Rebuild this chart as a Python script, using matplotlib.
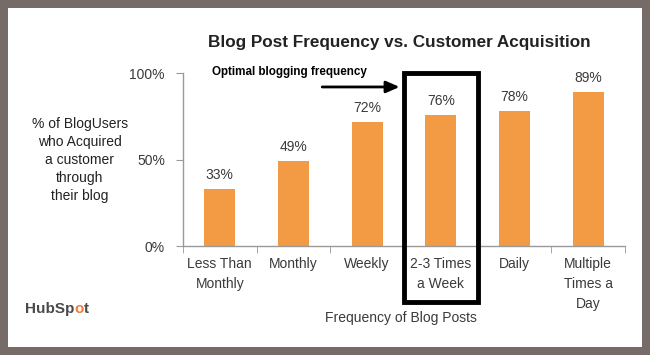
import matplotlib.pyplot as plt
from matplotlib.patches import Rectangle
import numpy as np

plt.rcParams['font.family'] = ['Liberation Sans', 'DejaVu Sans']

# data
categories = ['Less Than\nMonthly', 'Monthly', 'Weekly', '2-3 Times\na Week', 'Daily', 'Multiple\nTimes a\nDay']
values = [33, 49, 72, 76, 78, 89]
yticks = [0, 50, 100]
ytick_labels = ['0%', '50%', '100%']
highlight = 3

bar_color = '#F39A45'
text_color = '#3a3a3a'

fig = plt.figure(figsize=(6.5, 3.55), dpi=100, facecolor='#766b66')
# white card inside the frame
fig.patches.append(Rectangle((0.012, 0.022), 0.976, 0.956, transform=fig.transFigure,
                             facecolor='white', edgecolor='none', zorder=-1))

ax = fig.add_axes([0.2815, 0.307, 0.68, 0.487])
ax.set_zorder(2)
ax.set_facecolor('none')
x = np.arange(len(categories))
ax.bar(x, values, width=0.42, color=bar_color, zorder=2)

ax.set_xlim(-0.5, len(categories) - 0.5)
ax.set_ylim(0, 100)

for s in ['top', 'right']:
    ax.spines[s].set_visible(False)
for s in ['left', 'bottom']:
    ax.spines[s].set_color('#999999')
    ax.spines[s].set_linewidth(1)

ax.set_yticks(yticks)
ax.set_yticklabels(ytick_labels)
ax.set_xticks(x)
ax.set_xticklabels(categories, linespacing=1.55)
ax.tick_params(axis='x', length=0, pad=8, labelsize=10, labelcolor=text_color)
ax.tick_params(axis='y', length=5, color='#999999', pad=8, labelsize=10, labelcolor=text_color)
# small tick marks between categories
ax.set_xticks(np.arange(-0.5, len(categories)), minor=True)
ax.tick_params(axis='x', which='minor', length=5, color='#999999')

# value labels
for xi, v in zip(x, values):
    ax.annotate('{}%'.format(v), (xi, v), xytext=(0, 5), textcoords='offset points',
                ha='center', va='bottom', fontsize=10, color=text_color)

# highlight box around the optimal frequency
ax.add_patch(Rectangle((highlight - 0.5, -32.4), 1.0, 132.4, fill=False,
                       edgecolor='black', linewidth=3.5, clip_on=False, zorder=5))

ax.annotate('', xy=(highlight - 0.56, 92), xytext=(1.39, 92),
            arrowprops=dict(arrowstyle='-|>,head_length=0.8,head_width=0.35',
                            color='black', lw=2, shrinkA=0, shrinkB=0),
            annotation_clip=False)
ax.text(-0.1, 100.5, 'Optimal blogging frequency', fontsize=8.4, fontweight='bold',
        color='black', ha='left', va='center')

fig.text(0.614, 0.879, 'Blog Post Frequency vs. Customer Acquisition', ha='center',
         va='center', fontsize=12.3, fontweight='bold', color='#222222')
fig.text(0.123, 0.549, '% of BlogUsers\nwho Acquired\na customer\nthrough\ntheir blog',
         ha='center', va='center', fontsize=10, color='#222222', linespacing=1.36)
fig.text(0.617, 0.104, 'Frequency of Blog Posts', ha='center', va='center',
         fontsize=10, color=text_color)

# HubSpot wordmark, orange "o"
fig.canvas.draw()
renderer = fig.canvas.get_renderer()
hx, hy = 0.038, 0.13
for part, col in [('HubSp', '#4a4a4a'), ('o', '#F07C35'), ('t', '#4a4a4a')]:
    t = fig.text(hx, hy, part, ha='left', va='center', fontsize=11,
                 fontweight='bold', color=col)
    bb = t.get_window_extent(renderer)
    hx += bb.width / fig.bbox.width

fig.savefig('out.png', dpi=100, facecolor=fig.get_facecolor())
